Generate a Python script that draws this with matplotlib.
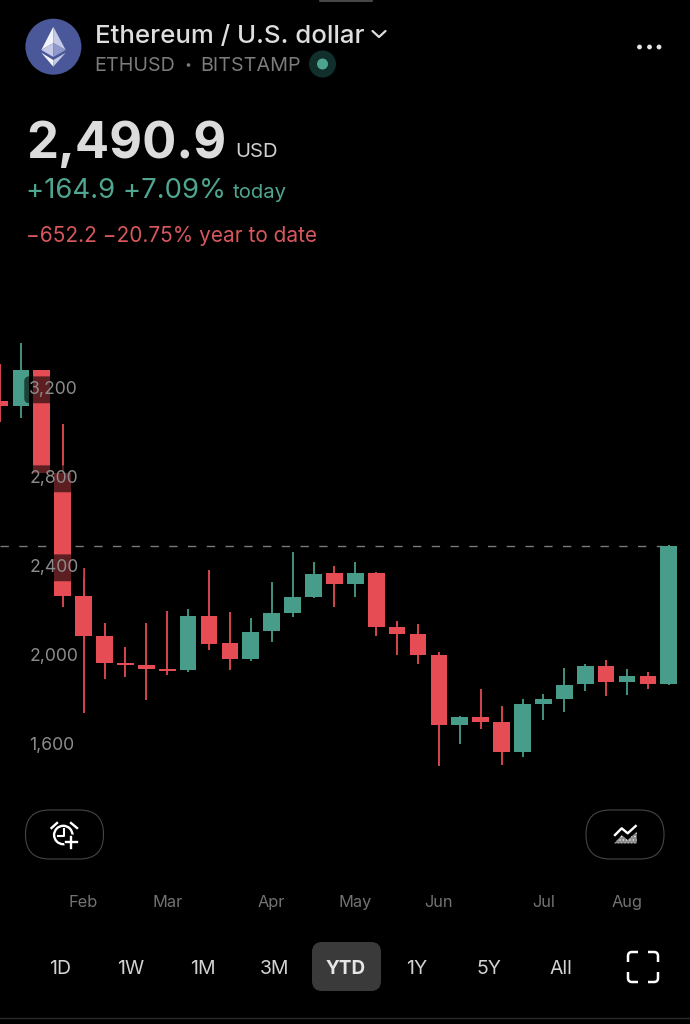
import matplotlib
matplotlib.use("Agg")
import matplotlib.pyplot as plt
from matplotlib.patches import Circle, FancyBboxPatch, Polygon, PathPatch
from matplotlib.path import Path

plt.rcParams['font.family'] = ['Inter', 'DejaVu Sans']

# weekly candles
opens = [3141, 3119, 3281, 2818, 2265, 2085, 1964, 1954, 1936, 1934, 2174, 2052, 1981, 2108, 2190, 2262, 2368,
         2320, 2368, 2127, 2094, 2000, 1687, 1721, 1700, 1565, 1781, 1802, 1868, 1949, 1879, 1904, 1870]
closes = [3117, 3281, 2818, 2265, 2087, 1963, 1954, 1936, 1927, 2174, 2051, 1981, 2105, 2187, 2259, 2365, 2320,
          2368, 2127, 2094, 2000, 1687, 1721, 1700, 1565, 1778, 1801, 1865, 1949, 1879, 1904, 1870, 2490.9]
highs = [3308, 3402, 3281, 3038, 2391, 2142, 2035, 2142, 2198, 2207, 2382, 2195, 2165, 2327, 2461, 2419, 2401,
         2419, 2371, 2153, 2138, 2012, 1726, 1846, 1772, 1804, 1826, 1940, 1960, 1978, 1936, 1925, 2494]
lows = [3047, 3065, 2818, 2217, 1739, 1891, 1903, 1798, 1910, 1925, 2022, 1933, 1974, 2057, 2172, 2258, 2217,
        2262, 2085, 2001, 1960, 1501, 1600, 1666, 1506, 1543, 1708, 1745, 1840, 1817, 1822, 1849, 1866]

price_ticks = [3200, 2800, 2400, 2000, 1600]
month_pos = [4, 8, 13, 17, 21, 26, 30]
month_labels = ['Feb', 'Mar', 'Apr', 'May', 'Jun', 'Jul', 'Aug']
last_price = 2490.9
ranges = ['1D', '1W', '1M', '3M', 'YTD', '1Y', '5Y', 'All']
range_x = [60, 131, 203, 275, 346, 417, 489, 561]

GREEN = '#489d8a'
RED = '#e64c54'
W, H = 690, 1024

fig = plt.figure(figsize=(6.9, 10.24), dpi=100, facecolor='black')

# chart, y 330..790 px. 400 USD = 89 px
top_px, bot_px = 330, 790
ax = fig.add_axes([0, 1 - bot_px / H, 1, (bot_px - top_px) / H], facecolor='black')
ax.set_xlim(0, W / 20.9)
ax.set_ylim(2000 + (655 - bot_px) * 400 / 89, 2000 + (655 - top_px) * 400 / 89)
for s in ax.spines.values():
    s.set_visible(False)

ax.axhline(last_price, color='#7a7a7a', lw=1, dashes=(6, 7.5), zorder=1, xmax=0.96)

for i in range(len(opens)):
    col = GREEN if closes[i] >= opens[i] else RED
    ax.vlines(i, lows[i], highs[i], color=col, lw=1.3, zorder=2)
    ax.bar(i, abs(closes[i] - opens[i]), bottom=min(opens[i], closes[i]), width=16.6 / 20.9, color=col, lw=0, zorder=3)

ax.set_yticks([])
ax.set_xticks(month_pos)
ax.set_xticklabels(month_labels, fontsize=11.8, color='#737373')
ax.tick_params(axis='x', length=0, pad=75.4)

for p in price_ticks:
    ax.annotate(f'{p:,}', (29.2 / 20.9, p), xytext=(0, -1.3), textcoords='offset points', fontsize=12.7,
                color='#8c8c8c', va='center', ha='left', zorder=5,
                bbox=dict(boxstyle='round,pad=0.28', fc=(0, 0, 0, 0.6), ec='none'))

# everything around the chart, in pixels
ui = fig.add_axes([0, 0, 1, 1])
ui.set_xlim(0, W)
ui.set_ylim(H, 0)
ui.axis('off')
ui.patch.set_alpha(0)

ui.plot([320, 372], [0.5, 0.5], color='#555555', lw=1.2)

# logo
ui.add_patch(Circle((53.4, 46.7), 28, fc='#4a5798', ec='none'))
ui.add_patch(Polygon([(53.3, 26.7), (41.3, 50), (53.3, 43)], fc='#f2f3fa', ec='none'))
ui.add_patch(Polygon([(53.3, 26.7), (65.7, 50), (53.3, 43)], fc='#c3c9e6', ec='none'))
ui.add_patch(Polygon([(41.3, 50), (53.3, 43), (53.3, 57)], fc='#c3c9e6', ec='none'))
ui.add_patch(Polygon([(65.7, 50), (53.3, 43), (53.3, 57)], fc='#8f99cc', ec='none'))
ui.add_patch(Polygon([(41.3, 52.7), (53.3, 60), (53.3, 66.7)], fc='#f5f6fb', ec='none'))
ui.add_patch(Polygon([(65.7, 52.7), (53.3, 60), (53.3, 66.7)], fc='#c3c9e6', ec='none'))

ui.text(95, 43, 'Ethereum / U.S. dollar', fontsize=18.6, color='#dedede', weight='medium', va='baseline')
ui.plot([372.5, 379, 385.5], [31, 37, 31], color='#dedede', lw=1.6, solid_capstyle='round')
ui.text(94.5, 71, 'ETHUSD', fontsize=14.2, color='#7c7c7c', va='baseline')
ui.add_patch(Circle((188.5, 65), 1.8, fc='#7c7c7c', ec='none'))
ui.text(200.5, 71, 'BITSTAMP', fontsize=14.2, color='#7c7c7c', va='baseline')
ui.add_patch(Circle((322.5, 64), 13.5, fc='#11302b', ec='none'))
ui.add_patch(Circle((322.5, 64), 5.5, fc='#4ea58f', ec='none'))
for x in [639.5, 649.5, 659]:
    ui.add_patch(Circle((x, 47), 2.4, fc='#e6e6e6', ec='none'))

ui.text(26, 158, '2,490.9', fontsize=36.5, color='#dcdcdc', weight='bold', va='baseline')
ui.text(235, 157, 'USD', fontsize=14.6, color='#d0d0d0', va='baseline')
ui.text(26.5, 198, '+164.9 +7.09%', fontsize=19.8, color='#4fa58f', va='baseline')
ui.text(233, 198, 'today', fontsize=14.6, color='#4fa58f', va='baseline')
ui.text(26, 242, '\u2212652.2 \u221220.75% year to date', fontsize=15, color='#d8575e', va='baseline')

# pill buttons
for x0 in [25.5, 586]:
    ui.add_patch(FancyBboxPatch((x0, 810), 78, 49, boxstyle='round,pad=0,rounding_size=24', fc='black', ec='#454545', lw=0.8))

# alarm icon
ui.add_patch(Circle((63.3, 835), 9.2, fc='none', ec='white', lw=1.7))
ui.add_patch(Circle((71.5, 842), 7.5, fc='black', ec='none'))
ui.plot([63.5, 63.5, 58], [829, 836, 836], color='white', lw=1.5)
ui.plot([51.5, 57], [828, 823], color='white', lw=1.7)
ui.plot([71, 77], [823, 828], color='white', lw=1.7)
ui.plot([65.5, 77], [842, 842], color='white', lw=1.7)
ui.plot([71.2, 71.2], [836.5, 847.5], color='white', lw=1.7)

# indicator icon
ui.plot([615, 621.7, 627.7, 635.7], [835, 828.3, 833.3, 826], color='white', lw=1.7)
plt.rcParams['hatch.linewidth'] = 0.5
ui.add_patch(Polygon([(614.3, 843.3), (621.7, 835), (627.7, 840), (636.7, 831.7), (636.7, 843.3)],
                     fc='#8c8c8c', ec='#f0f0f0', lw=0, hatch='.....'))

# range selector
ui.add_patch(FancyBboxPatch((312, 942), 69, 49, boxstyle='round,pad=0,rounding_size=10', fc='#3a3a3a', ec='none'))
for lab, x in zip(ranges, range_x):
    sel = lab == 'YTD'
    ui.text(x, 968.5, lab, fontsize=13.6 if sel else 14, color='#e6e6e6' if sel else '#d2d2d2',
            weight='bold' if sel else 'normal', ha='center', va='center')

# fullscreen corners
x0, x1, y0, y1, r, n = 628, 658, 952, 982, 4, 10
corners = [
    [(x0 + n, y0), (x0 + r, y0), (x0, y0), (x0, y0 + r), (x0, y0 + n)],
    [(x1 - n, y0), (x1 - r, y0), (x1, y0), (x1, y0 + r), (x1, y0 + n)],
    [(x0 + n, y1), (x0 + r, y1), (x0, y1), (x0, y1 - r), (x0, y1 - n)],
    [(x1 - n, y1), (x1 - r, y1), (x1, y1), (x1, y1 - r), (x1, y1 - n)],
]
codes = [Path.MOVETO, Path.LINETO, Path.CURVE3, Path.CURVE3, Path.LINETO]
for c in corners:
    ui.add_patch(PathPatch(Path(c, codes), fc='none', ec='white', lw=1.8))

ui.plot([0, W], [1017.5, 1017.5], color='#2b2b2b', lw=1)

fig.savefig('out.png', dpi=100, facecolor='black')
